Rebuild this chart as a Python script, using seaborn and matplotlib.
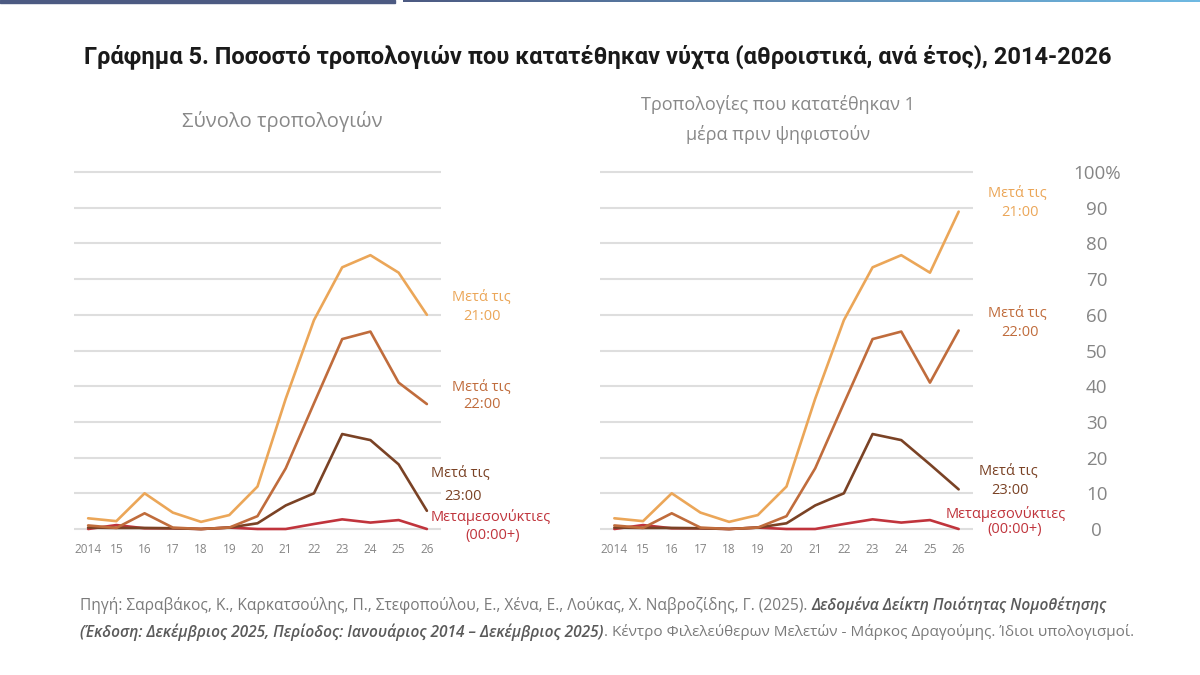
import numpy as np
import pandas as pd
import matplotlib
matplotlib.use("Agg")
import matplotlib.pyplot as plt
import matplotlib.patches as mpatches
import seaborn as sns

# --- datos ---
anios = list(range(2014, 2027))
etiquetas_x = ["2014", "15", "16", "17", "18", "19", "20", "21", "22", "23", "24", "25", "26"]
series = ["Μετά τις 21:00", "Μετά τις 22:00", "Μετά τις 23:00", "Μεταμεσονύκτιες (00:00+)"]

# Σύνολο τροπολογιών
total_21 = [3.0, 2.2, 10.0, 4.6, 2.0, 3.9, 11.9, 36.5, 58.5, 73.3, 76.7, 71.8, 60.0]
total_22 = [1.0, 0.3, 4.4, 0.4, 0.0, 0.4, 3.6, 17.0, 35.2, 53.2, 55.3, 41.0, 35.0]
total_23 = [0.4, 0.3, 0.3, 0.2, 0.0, 0.4, 1.6, 6.6, 10.0, 26.6, 24.9, 18.1, 5.1]
total_00 = [0.0, 1.1, 0.2, 0.2, 0.0, 0.4, 0.0, 0.0, 1.4, 2.7, 1.8, 2.5, 0.0]

# Τροπολογίες που κατατέθηκαν 1 μέρα πριν ψηφιστούν
dia_21 = [3.0, 2.2, 10.0, 4.6, 2.0, 3.9, 11.9, 36.5, 58.5, 73.3, 76.7, 71.8, 88.9]
dia_22 = [1.0, 0.3, 4.4, 0.4, 0.0, 0.4, 3.6, 17.0, 35.2, 53.2, 55.3, 41.0, 55.6]
dia_23 = [0.4, 0.3, 0.3, 0.2, 0.0, 0.4, 1.6, 6.6, 10.0, 26.6, 24.9, 18.1, 11.1]
dia_00 = [0.0, 1.1, 0.2, 0.2, 0.0, 0.4, 0.0, 0.0, 1.4, 2.7, 1.8, 2.5, 0.0]

colores = {
    series[0]: "#eba658",
    series[1]: "#c06c3c",
    series[2]: "#7a4225",
    series[3]: "#c0343c",
}


def tabla(valores):
    filas = []
    for serie, vals in zip(series, valores):
        for a, v in zip(anios, vals):
            filas.append({"anio": a, "serie": serie, "valor": v})
    return pd.DataFrame(filas)


df_total = tabla([total_21, total_22, total_23, total_00])
df_dia = tabla([dia_21, dia_22, dia_23, dia_00])

sns.set_theme(style="white")
plt.rcParams["font.family"] = ["Open Sans", "DejaVu Sans"]

W, H = 1200, 675
fig = plt.figure(figsize=(12, 6.75), dpi=100)
fig.patch.set_facecolor("white")


def fx(x):
    return x / W


def fy(y):
    return 1 - y / H


# barra decorativa arriba
fig.patches.append(mpatches.Rectangle((0, fy(2.5)), fx(395), 2.5 / H, transform=fig.transFigure,
                                      color="#4c5a82", zorder=5))
ax_bar = fig.add_axes([fx(403), fy(2.5), fx(797), 2.5 / H])
grad = np.linspace(0, 1, 256).reshape(1, -1)
cmap = matplotlib.colors.LinearSegmentedColormap.from_list("barra", ["#4c5a82", "#6fb9e2"])
ax_bar.imshow(grad, aspect="auto", cmap=cmap)
ax_bar.set_axis_off()

# ejes: y=0 en 529px, y=100 en 172px
px_u = (529 - 172) / 100
ybot = 529 + 1.5 * px_u
ytop = 172 - 1.5 * px_u
pos_y = fy(ybot)
alto = (ybot - ytop) / H

ax1 = fig.add_axes([fx(74), pos_y, fx(367), alto])
ax2 = fig.add_axes([fx(600), pos_y, fx(373), alto])

for ax, df in [(ax1, df_total), (ax2, df_dia)]:
    sns.lineplot(data=df, x="anio", y="valor", hue="serie", palette=colores, hue_order=series[::-1],
                 linewidth=1.9, legend=False, ax=ax)
    ax.set_xlim(2014 - 0.5, 2026 + 0.5)
    ax.set_ylim(-1.5, 101.5)
    ax.set_yticks(range(0, 101, 10))
    ax.grid(axis="y", color="#dedede", linewidth=1.5)
    ax.grid(axis="x", visible=False)
    ax.set_axisbelow(True)
    for s in ax.spines.values():
        s.set_visible(False)
    ax.set_xticks(anios)
    ax.set_xticklabels(etiquetas_x, fontsize=8.5, color="#858585")
    ax.tick_params(axis="x", length=0, pad=6)
    ax.set_xlabel("")
    ax.set_ylabel("")
    ax.tick_params(axis="y", length=0, left=False, labelleft=False)

etq_y = [str(v) for v in range(0, 100, 10)] + ["100%"]
ax2.set_yticklabels(etq_y)
ax2.tick_params(axis="y", right=False, labelright=True, pad=89, labelsize=13.5, labelcolor="#858585")
for t in ax2.get_yticklabels():
    t.set_horizontalalignment("center")

# títulos
fig.text(fx(598), fy(57), "Γράφημα 5. Ποσοστό τροπολογιών που κατατέθηκαν νύχτα (αθροιστικά, ανά έτος), 2014-2026",
         ha="center", va="center", fontsize=17, fontweight="bold", color="#1a1a1a",
         family=["Roboto", "DejaVu Sans"])
gris_sub = "#888888"
fig.text(fx(282), fy(122), "Σύνολο τροπολογιών", ha="center", va="center", fontsize=14.5, color=gris_sub)
fig.text(fx(778), fy(105), "Τροπολογίες που κατατέθηκαν 1", ha="center", va="center", fontsize=13,
         color=gris_sub)
fig.text(fx(778), fy(135), "μέρα πριν ψηφιστούν", ha="center", va="center", fontsize=13, color=gris_sub)

# etiquetas de las series
etiquetas = [
    # (x, y, texto, serie)
    (481, 298, "Μετά τις", 0), (482, 316, "21:00", 0),
    (481, 388, "Μετά τις", 1), (482, 405, "22:00", 1),
    (460, 473, "Μετά τις", 2), (463, 497, "23:00", 2),
    (491, 517, "Μεταμεσονύκτιες", 3), (493, 536, "(00:00+)", 3),
    (1017, 193, "Μετά τις", 0), (1020, 212, "21:00", 0),
    (1017, 313, "Μετά τις", 1), (1020, 332, "22:00", 1),
    (1008, 472, "Μετά τις", 2), (1010, 491, "23:00", 2),
    (1006, 514, "Μεταμεσονύκτιες", 3), (1015, 530, "(00:00+)", 3),
]
for x, y, txt, i in etiquetas:
    fig.text(fx(x), fy(y), txt, ha="center", va="center", fontsize=10.5, color=colores[series[i]])

# fuente (pie)
gris = "#7a7a7a"
tam = 11.2
t1 = fig.text(fx(80), fy(605),
              "Πηγή: Σαραβάκος, Κ., Καρκατσούλης, Π., Στεφοπούλου, Ε., Χένα, Ε., Λούκας, Χ. Ναβροζίδης, Γ. (2025). ",
              ha="left", va="center", fontsize=tam, color=gris)
a1 = plt.annotate("Δεδομένα Δείκτη Ποιότητας Νομοθέτησης", xy=(1, 0.5), xycoords=t1, va="center", ha="left",
                  fontsize=tam, color="#5a5a5a", fontstyle="italic", fontweight="semibold",
                  annotation_clip=False)
t2 = fig.text(fx(80), fy(632),
              "(Έκδοση: Δεκέμβριος 2025, Περίοδος: Ιανουάριος 2014 – Δεκέμβριος 2025)",
              ha="left", va="center", fontsize=tam, color="#5a5a5a", fontstyle="italic", fontweight="semibold")
a2 = plt.annotate(". Κέντρο Φιλελεύθερων Μελετών - Μάρκος Δραγούμης. Ίδιοι υπολογισμοί.", xy=(1, 0.5),
                  xycoords=t2, va="center", ha="left", fontsize=tam * 0.98, color=gris, annotation_clip=False)

fig.savefig("out.png", dpi=100, facecolor="white")
